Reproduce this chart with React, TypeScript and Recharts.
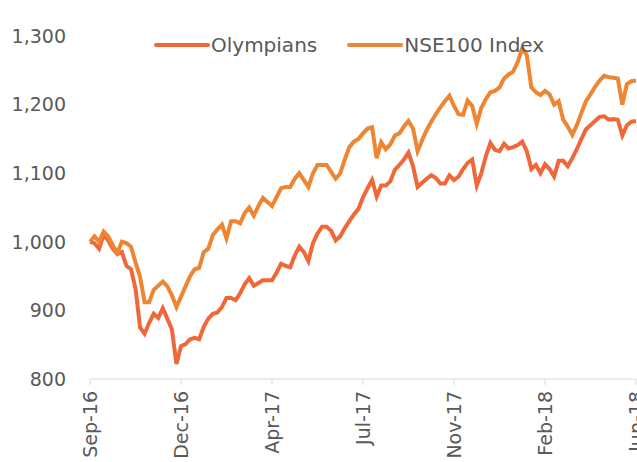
import React from 'react';
import { LineChart, Line, XAxis, YAxis } from 'recharts';

// tick labels on the date axis, one every 20 points
const dateLabels = ['Sep-16', 'Dec-16', 'Apr-17', 'Jul-17', 'Nov-17', 'Feb-18', 'Jun-18'];
const yTicks = [800, 900, 1000, 1100, 1200, 1300];

// NSE100 Index, rebased to 1,000
const nse100 = [
  1000, 1008, 1000, 1015, 1008, 995, 984, 1000, 998, 993,
  970, 949, 912, 912, 930, 936, 942, 935, 922, 905,
  920, 935, 950, 960, 962, 985, 990, 1010, 1018, 1025,
  1005, 1030, 1030, 1027, 1042, 1050, 1038, 1052, 1064, 1058,
  1052, 1065, 1078, 1080, 1080, 1092, 1100, 1090, 1080, 1100,
  1112, 1112, 1112, 1102, 1092, 1100, 1120, 1138, 1146, 1150,
  1158, 1165, 1167, 1122, 1145, 1135, 1142, 1155, 1158, 1168,
  1176, 1165, 1132, 1148, 1163, 1175, 1186, 1196, 1205, 1213,
  1198, 1186, 1185, 1206, 1198, 1172, 1195, 1208, 1218, 1220,
  1225, 1238, 1244, 1248, 1262, 1282, 1272, 1225, 1218, 1214,
  1220, 1215, 1200, 1205, 1178, 1168, 1156, 1170, 1188, 1205,
  1215, 1226, 1235, 1242, 1240, 1239, 1238, 1200, 1230, 1234,
  1235,
];

// Olympians, rebased to 1,000
const olympians = [
  1000, 998, 990, 1010, 1002, 990, 982, 985, 965, 960,
  932, 875, 866, 882, 895, 889, 903, 888, 872, 822,
  848, 851, 858, 860, 858, 876, 888, 895, 897, 905,
  918, 918, 915, 925, 938, 947, 936, 940, 944, 944,
  944, 955, 968, 965, 963, 980, 993, 985, 972, 998,
  1012, 1022, 1022, 1016, 1002, 1008, 1020, 1030, 1040, 1048,
  1065, 1078, 1090, 1066, 1082, 1082, 1088, 1105, 1112, 1120,
  1130, 1110, 1080, 1086, 1092, 1097, 1093, 1085, 1085, 1097,
  1090, 1095, 1106, 1115, 1120, 1082, 1100, 1125, 1144, 1134,
  1132, 1143, 1136, 1138, 1141, 1146, 1132, 1106, 1112, 1100,
  1113, 1106, 1095, 1118, 1118, 1110, 1122, 1135, 1150, 1164,
  1170, 1176, 1182, 1183, 1178, 1179, 1178, 1155, 1170, 1175,
  1176,
];

const data = nse100.map((v, i) => ({ i, nse: v, oly: olympians[i] }));

const OLY = '#F0683A';
const NSE = '#EE8533';
const TXT = '#595959';
const FONT = '"DejaVu Sans", sans-serif';

const DateTick = (props: any) => {
  const { x, y, payload } = props;
  return (
    <text
      x={x}
      y={y + 4}
      transform={`rotate(-90, ${x}, ${y + 4})`}
      textAnchor="end"
      dy="0.35em"
      fill={TXT}
      fontSize={19}
      fontFamily={FONT}
    >
      {dateLabels[payload.value / 20]}
    </text>
  );
};

// legend drawn over the chart, so it does not push the plot down
const LegendBox = () => (
  <div
    style={{
      position: 'absolute', top: 33, left: 154, display: 'flex', alignItems: 'center',
      fontFamily: FONT, fontSize: 20, color: TXT, lineHeight: '24px',
    }}
  >
    <svg width={56} height={10}>
      <line x1={2} y1={5} x2={54} y2={5} stroke={OLY} strokeWidth={4} strokeLinecap="round" />
    </svg>
    <span style={{ marginLeft: 1 }}>Olympians</span>
    <svg width={56} height={10} style={{ marginLeft: 30 }}>
      <line x1={2} y1={5} x2={54} y2={5} stroke={NSE} strokeWidth={4} strokeLinecap="round" />
    </svg>
    <span style={{ marginLeft: 1 }}>NSE100 Index</span>
  </div>
);

export default function App() {
  return (
    <div style={{ position: 'fixed', left: 0, top: 0, width: 637, height: 462, overflow: 'hidden', background: '#fff' }}>
      <LineChart width={640} height={462} data={data} margin={{ top: 36, right: 4, left: 0, bottom: 0 }}>
        <XAxis
          dataKey="i"
          type="number"
          domain={[0, 120]}
          ticks={[0, 20, 40, 60, 80, 100, 120]}
          tick={<DateTick />}
          height={83}
          stroke="#D9D9D9"
          tickSize={6}
          interval={0}
        />
        <YAxis
          domain={[800, 1300]}
          ticks={yTicks}
          width={90}
          axisLine={false}
          tickLine={false}
          tickSize={6}
          tickMargin={18}
          tickFormatter={(v: number) => v.toLocaleString('en-US')}
          tick={{ fill: TXT, fontSize: 19, fontFamily: FONT }}
        />
        <Line type="linear" dataKey="oly" name="Olympians" stroke={OLY} strokeWidth={4} dot={false} isAnimationActive={false} />
        <Line type="linear" dataKey="nse" name="NSE100 Index" stroke={NSE} strokeWidth={4} dot={false} isAnimationActive={false} />
      </LineChart>
      <LegendBox />
    </div>
  );
}
